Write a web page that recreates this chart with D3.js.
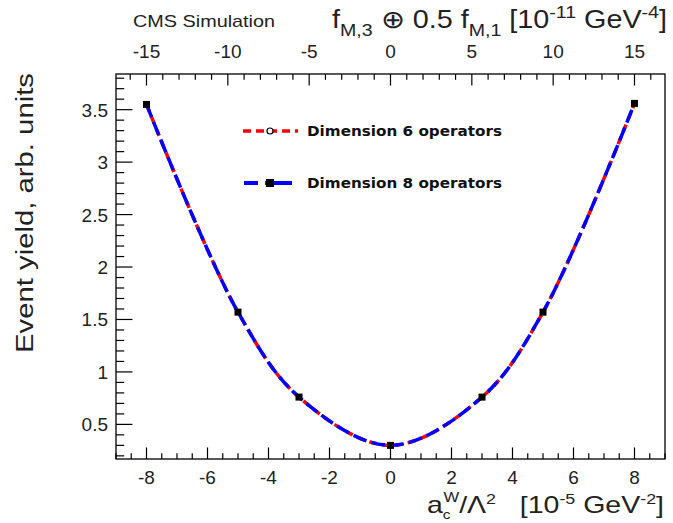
<!DOCTYPE html>
<html><head><meta charset="utf-8">
<script src="https://cdn.jsdelivr.net/npm/d3@7"></script>
<style>body{margin:0;background:#fff}svg{display:block}</style>
</head><body>
<svg id="c" width="673" height="523"></svg>
<script>
const couplingX = [-8, -5, -3, 0, 3, 5, 8];
const dim6Yield = [3.55, 1.57, 0.76, 0.30, 0.76, 1.57, 3.56];
const dim8Yield = [3.55, 1.57, 0.76, 0.30, 0.76, 1.57, 3.56];
const bottomTicks = [-8, -6, -4, -2, 0, 2, 4, 6, 8];
const topTicks = [-15, -10, -5, 0, 5, 10, 15];
const yTicks = [0.5, 1, 1.5, 2, 2.5, 3, 3.5];
const seriesNames = ["Dimension 6 operators", "Dimension 8 operators"];

const svg = d3.select("#c");
const L = 116, R = 665, T = 74, B = 459;
const x = d3.scaleLinear().domain([-9, 9]).range([L, R]);
const xTop = d3.scaleLinear().domain([-9 * 15 / 8, 9 * 15 / 8]).range([L, R]);
const y = d3.scaleLinear().domain([0.17, 3.84]).range([B, T]);
const font = "'Liberation Sans', Arial, sans-serif";

svg.append("rect").attr("x", L).attr("y", T).attr("width", R - L).attr("height", B - T)
  .attr("fill", "none").attr("stroke", "#000").attr("stroke-width", 1.3);

const W = R - L, H = B - T;
const xMinor = d3.range(-9, 9.001, 0.5);
svg.append("g").selectAll("line").data(xMinor).join("line")
  .attr("x1", d => x(d)).attr("x2", d => x(d))
  .attr("y1", B).attr("y2", d => B - (Math.abs(d % 2) < 1e-9 ? 0.03 * H : 0.015 * H))
  .attr("stroke", "#000").attr("stroke-width", 1.2);
svg.append("g").selectAll("text").data(bottomTicks).join("text")
  .attr("x", d => x(d)).attr("y", 484).attr("text-anchor", "middle")
  .attr("font-family", font).attr("font-size", 19).attr("fill", "#222").text(d => d);

const tMinor = d3.range(-16, 16.001, 1);
svg.append("g").selectAll("line").data(tMinor).join("line")
  .attr("x1", d => xTop(d)).attr("x2", d => xTop(d))
  .attr("y1", T).attr("y2", d => T + (Math.abs(d % 5) < 1e-9 ? 0.03 * H : 0.015 * H))
  .attr("stroke", "#000").attr("stroke-width", 1.2);
svg.append("g").selectAll("text").data(topTicks).join("text")
  .attr("x", d => xTop(d)).attr("y", 58).attr("text-anchor", "middle")
  .attr("font-family", font).attr("font-size", 19).attr("fill", "#222").text(d => d);

const yMinor = d3.range(0.2, 3.84, 0.1);
svg.append("g").selectAll("line").data(yMinor).join("line")
  .attr("y1", d => y(d)).attr("y2", d => y(d))
  .attr("x1", L).attr("x2", d => L + (Math.abs((Math.round(d * 10)) % 5) === 0 ? 0.03 * W : 0.015 * W))
  .attr("stroke", "#000").attr("stroke-width", 1.2);
svg.append("g").selectAll("text").data(yTicks).join("text")
  .attr("x", 108).attr("y", d => y(d) + 7).attr("text-anchor", "end")
  .attr("font-family", font).attr("font-size", 19).attr("fill", "#222").text(d => d);

svg.append("text").attr("transform", "translate(33,213) rotate(-90)")
  .attr("text-anchor", "middle").attr("font-family", font).attr("font-size", 23)
  .attr("textLength", 280).attr("lengthAdjust", "spacingAndGlyphs")
  .attr("fill", "#222").text("Event yield, arb. units");

const xt = svg.append("text").attr("x", 427).attr("y", 513)
  .attr("font-family", font).attr("font-size", 24).attr("fill", "#222")
  .attr("textLength", 237).attr("lengthAdjust", "spacingAndGlyphs")
  .style("white-space", "pre");
xt.append("tspan").text("a");
xt.append("tspan").attr("font-size", 13).attr("dy", 6).text("c");
xt.append("tspan").attr("font-size", 14).attr("dx", -6).attr("dy", -17).text("W");
xt.append("tspan").attr("dy", 11).text("/Λ");
xt.append("tspan").attr("font-size", 15).attr("dy", -9).text("2");
xt.append("tspan").attr("dy", 9).text("   [10");
xt.append("tspan").attr("font-size", 15).attr("dy", -9).text("-5");
xt.append("tspan").attr("dy", 9).text(" GeV");
xt.append("tspan").attr("font-size", 15).attr("dy", -9).text("-2");
xt.append("tspan").attr("dy", 9).text("]");

svg.append("text").attr("x", 133).attr("y", 27).attr("font-family", font)
  .attr("font-size", 17).attr("fill", "#222").attr("textLength", 142)
  .attr("lengthAdjust", "spacingAndGlyphs").text("CMS Simulation");

const tt = svg.append("text").attr("x", 332).attr("y", 28)
  .attr("font-family", font).attr("font-size", 25).attr("fill", "#222")
  .attr("textLength", 335).attr("lengthAdjust", "spacingAndGlyphs");
tt.append("tspan").text("f");
tt.append("tspan").attr("font-size", 17).attr("dy", 8).text("M,3");
tt.append("tspan").attr("dy", -8).text(" ⊕ 0.5 f");
tt.append("tspan").attr("font-size", 17).attr("dy", 8).text("M,1");
tt.append("tspan").attr("dy", -8).text(" [10");
tt.append("tspan").attr("font-size", 17).attr("dy", -10).text("-11");
tt.append("tspan").attr("dy", 10).text(" GeV");
tt.append("tspan").attr("font-size", 17).attr("dy", -10).text("-4");
tt.append("tspan").attr("dy", 10).text("]");

const d6 = couplingX.map((v, i) => [v, dim6Yield[i]]);
const d8 = couplingX.map((v, i) => [v, dim8Yield[i]]);
const line = d3.line().x(d => x(d[0])).y(d => y(d[1])).curve(d3.curveCatmullRom.alpha(0.5));
svg.append("path").attr("d", line(d6)).attr("fill", "none").attr("stroke", "#ff0000")
  .attr("stroke-width", 3.5).attr("stroke-dasharray", "8,5");
svg.append("path").attr("d", line(d8)).attr("fill", "none").attr("stroke", "#0000ff")
  .attr("stroke-width", 3.5).attr("stroke-dasharray", "14,5");

svg.append("g").selectAll("rect").data(d8).join("rect")
  .attr("x", d => x(d[0]) - 3.5).attr("y", d => y(d[1]) - 3.5).attr("width", 7).attr("height", 7)
  .attr("fill", "#000");

const legY = [131, 183];
const lg = svg.append("g");
lg.append("line").attr("x1", 243).attr("x2", 298).attr("y1", legY[0]).attr("y2", legY[0])
  .attr("stroke", "#ff0000").attr("stroke-width", 3.5).attr("stroke-dasharray", "8,5");
lg.append("circle").attr("cx", 270).attr("cy", legY[0]).attr("r", 3)
  .attr("fill", "#fff").attr("stroke", "#000").attr("stroke-width", 1.2);
lg.append("line").attr("x1", 244).attr("x2", 292).attr("y1", legY[1]).attr("y2", legY[1])
  .attr("stroke", "#0000ff").attr("stroke-width", 4).attr("stroke-dasharray", "14,7,30");
lg.append("rect").attr("x", 266).attr("y", legY[1] - 4).attr("width", 8).attr("height", 8).attr("fill", "#000");
lg.selectAll("text").data(seriesNames).join("text")
  .attr("x", 307).attr("y", (d, i) => legY[i] + 5)
  .attr("font-family", "'DejaVu Sans', Verdana, sans-serif").attr("font-size", 14.5)
  .attr("font-weight", 600).attr("fill", "#111")
  .attr("textLength", 195).attr("lengthAdjust", "spacingAndGlyphs").text(d => d);
</script>
</body></html>
